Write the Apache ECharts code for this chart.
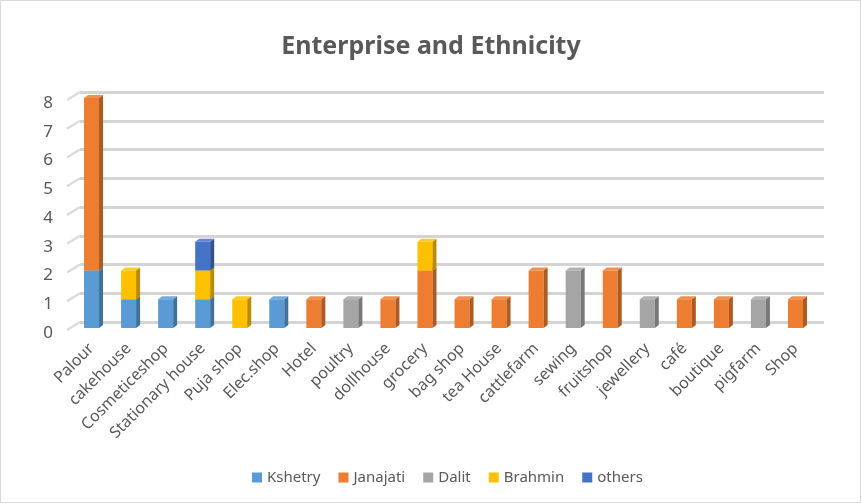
<!DOCTYPE html>
<html>
<head>
<meta charset="utf-8">
<script src="https://cdn.jsdelivr.net/npm/echarts@6/dist/echarts.min.js"></script>
<style>
  html, body { margin: 0; padding: 0; background: #fff; }
  #chart { width: 862px; height: 504px; }
</style>
</head>
<body>
<div id="chart"></div>
<script>
// categories and counts per ethnic group
var categories = ['Palour', 'cakehouse', 'Cosmeticeshop', 'Stationary house', 'Puja shop', 'Elec.shop', 'Hotel', 'poultry', 'dollhouse', 'grocery',
  'bag shop', 'tea House', 'cattlefarm', 'sewing', 'fruitshop', 'jewellery', 'café', 'boutique', 'pigfarm', 'Shop'];
var kshetry  = [2, 1, 1, 1, 0, 1, 0, 0, 0, 0, 0, 0, 0, 0, 0, 0, 0, 0, 0, 0];
var janajati = [6, 0, 0, 0, 0, 0, 1, 0, 1, 2, 1, 1, 2, 0, 2, 0, 1, 1, 0, 1];
var dalit    = [0, 0, 0, 0, 0, 0, 0, 1, 0, 0, 0, 0, 0, 2, 0, 1, 0, 0, 1, 0];
var brahmin  = [0, 1, 0, 1, 1, 0, 0, 0, 0, 1, 0, 0, 0, 0, 0, 0, 0, 0, 0, 0];
var others   = [0, 0, 0, 1, 0, 0, 0, 0, 0, 0, 0, 0, 0, 0, 0, 0, 0, 0, 0, 0];
var yTicks = [0, 1, 2, 3, 4, 5, 6, 7, 8];

var groups = [
  {name: 'Kshetry', data: kshetry, color: '#5B9BD5', side: '#41719C'},
  {name: 'Janajati', data: janajati, color: '#ED7D31', side: '#AE5A21'},
  {name: 'Dalit', data: dalit, color: '#A5A5A5', side: '#787878'},
  {name: 'Brahmin', data: brahmin, color: '#FFC000', side: '#BC8C00'},
  {name: 'others', data: others, color: '#4472C4', side: '#2F528F'},
];

var txt = '#595959';
var font = 'Noto Sans';

// pseudo 3d box drawn from the axis scales
function boxRenderer(color, side) {
  return function (params, api) {
    var base = api.value(1), top = api.value(2);
    if (top <= base) return;
    var p0 = api.coord([api.value(0), base]);
    var p1 = api.coord([api.value(0), top]);
    var w = 15, dx = 4, dy = -3;
    var l = p0[0] - w / 2;
    return {
      type: 'group',
      children: [
        {type: 'rect', shape: {x: l, y: p1[1], width: w, height: p0[1] - p1[1]}, style: {fill: color}},
        {type: 'polygon', shape: {points: [[l + w, p1[1]], [l + w + dx, p1[1] + dy], [l + w + dx, p0[1] + dy], [l + w, p0[1]]]}, style: {fill: side}},
        {type: 'polygon', shape: {points: [[l, p1[1]], [l + dx, p1[1] + dy], [l + w + dx, p1[1] + dy], [l + w, p1[1]]]}, style: {fill: color, opacity: 0.85}},
      ],
    };
  };
}

var running = categories.map(function () { return 0; });
var series = groups.map(function (g) {
  var items = g.data.map(function (v, i) {
    var b = running[i];
    running[i] += v;
    return [i, b, b + v];
  });
  return {
    name: g.name,
    type: 'custom',
    xAxisIndex: 0,
    yAxisIndex: 0,
    z: 3,
    itemStyle: {color: g.color},
    renderItem: boxRenderer(g.color, g.side),
    encode: {x: 0, y: 2},
    data: items,
  };
});

// little slanted marks on the side wall
series.push({
  type: 'custom',
  xAxisIndex: 1,
  yAxisIndex: 1,
  silent: true,
  z: 1,
  renderItem: function (params, api) {
    var p = api.coord([0, api.value(1)]);
    return {
      type: 'line',
      shape: {x1: p[0] - 13, y1: p[1] + 8, x2: p[0], y2: p[1]},
      style: {stroke: '#dcdcdc', lineWidth: 2.5},
    };
  },
  data: yTicks.map(function (t) { return [0, t]; }),
});

var chart = echarts.init(document.getElementById('chart'));
chart.setOption({
  animation: false,
  backgroundColor: '#fff',
  title: {
    text: 'Enterprise and Ethnicity',
    left: 'center',
    top: 29,
    textStyle: {fontFamily: font, fontSize: 25, fontWeight: 'bold', color: txt},
  },
  legend: {
    bottom: 14,
    left: 247,
    icon: 'rect',
    itemWidth: 10,
    itemHeight: 10,
    itemGap: 18,
    textStyle: {fontFamily: font, fontSize: 15, color: txt},
    data: groups.map(function (g) { return g.name; }),
  },
  graphic: [{
    type: 'rect',
    shape: {x: 0.5, y: 0.5, width: 860, height: 502},
    style: {fill: 'none', stroke: '#d9d9d9', lineWidth: 1},
    silent: true,
  }],
  grid: [
    {left: 73, right: 48, top: 98, bottom: 176},
    {left: 80, right: 38, top: 92, bottom: 182},
  ],
  xAxis: [
    {
      type: 'category',
      gridIndex: 0,
      data: categories,
      axisLine: {show: false},
      axisTick: {show: false},
      axisLabel: {rotate: 45, interval: 0, margin: 18, fontFamily: font, fontSize: 16, color: txt},
    },
    {type: 'value', gridIndex: 1, min: 0, max: 1, show: false},
  ],
  yAxis: [
    {
      type: 'value',
      gridIndex: 0,
      min: 0,
      max: yTicks[yTicks.length - 1],
      interval: 1,
      splitLine: {show: false},
      axisLine: {show: false},
      axisTick: {show: false},
      axisLabel: {margin: 20, verticalAlign: 'top', lineHeight: 10, fontFamily: font, fontSize: 17, color: txt},
    },
    {
      type: 'value',
      gridIndex: 1,
      min: 0,
      max: yTicks[yTicks.length - 1],
      interval: 1,
      axisLine: {show: false},
      axisTick: {show: false},
      axisLabel: {show: false},
      splitLine: {lineStyle: {color: '#d4d4d4', width: 3}},
    },
  ],
  series: series,
});
</script>
</body>
</html>
